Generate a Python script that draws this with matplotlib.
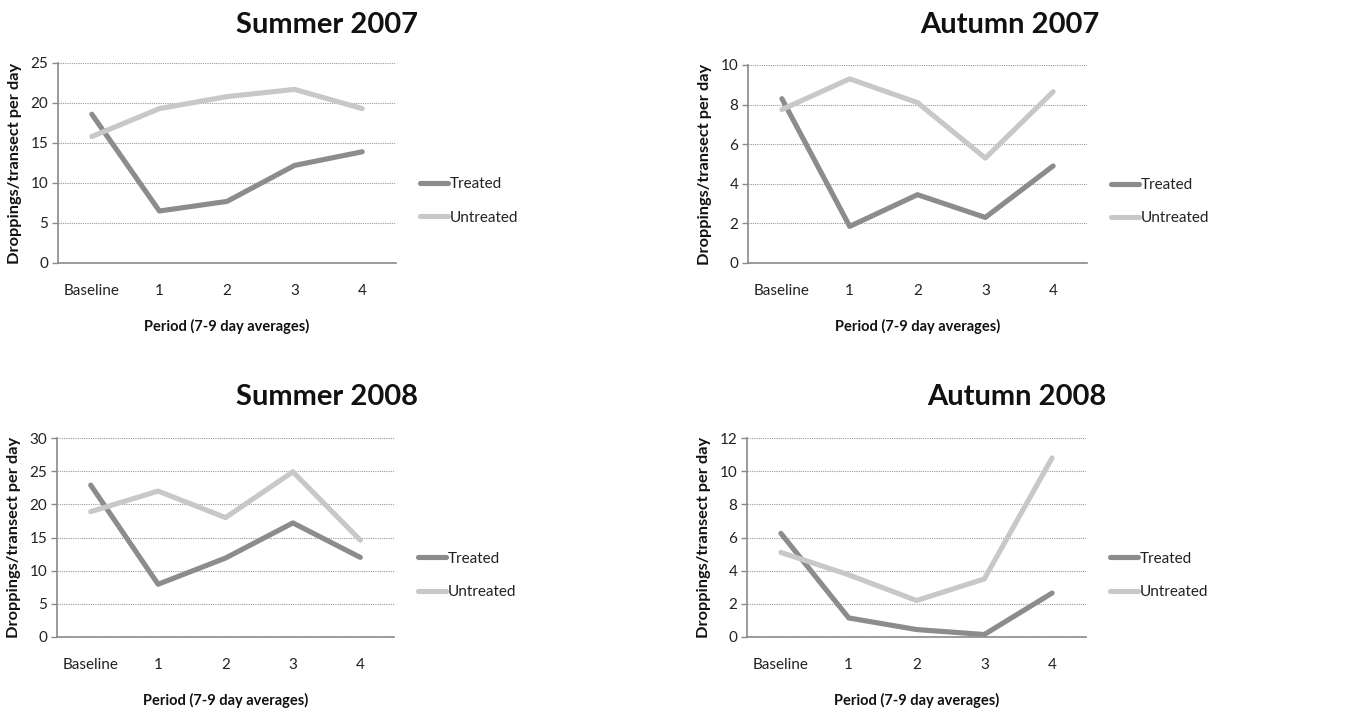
import matplotlib
matplotlib.use("Agg")
import matplotlib.pyplot as plt

plt.rcParams['font.family'] = ['Lato', 'DejaVu Sans']

categories = ["Baseline", "1", "2", "3", "4"]

titles = ["Summer 2007", "Autumn 2007", "Summer 2008", "Autumn 2008"]

treated_summer2007 = [18.6, 6.5, 7.7, 12.2, 13.9]
untreated_summer2007 = [15.8, 19.3, 20.8, 21.7, 19.3]

treated_autumn2007 = [8.3, 1.85, 3.45, 2.3, 4.9]
untreated_autumn2007 = [7.75, 9.3, 8.1, 5.3, 8.65]

treated_summer2008 = [22.9, 7.95, 11.9, 17.2, 12.0]
untreated_summer2008 = [18.9, 22.0, 18.0, 24.9, 14.6]

treated_autumn2008 = [6.25, 1.15, 0.45, 0.15, 2.65]
untreated_autumn2008 = [5.1, 3.75, 2.2, 3.5, 10.8]

ymax = [25, 10, 30, 12]
ystep = [5, 2, 5, 2]

series = [
    (treated_summer2007, untreated_summer2007),
    (treated_autumn2007, untreated_autumn2007),
    (treated_summer2008, untreated_summer2008),
    (treated_autumn2008, untreated_autumn2008),
]

W, H = 1357, 710
fig = plt.figure(figsize=(W / 100, H / 100), dpi=100)

# axes boxes in pixels: left, top, right, bottom
boxes = [
    (58, 63, 396, 263),
    (748, 65, 1087, 263),
    (57, 438, 394, 637),
    (747, 438, 1086, 637),
]
title_pos = [(327, 25), (1010, 25), (327, 397), (1017, 397)]

TREATED = "#8c8c8c"
UNTREATED = "#c8c8c8"
AXCOL = "#8a8a8a"

for i, (box, (tr, un)) in enumerate(zip(boxes, series)):
    l, t, r, b = box
    ax = fig.add_axes([l / W, 1 - b / H, (r - l) / W, (b - t) / H])
    x = list(range(len(categories)))
    ax.plot(x, tr, color=TREATED, lw=3.7, solid_capstyle='round', solid_joinstyle='round', label="Treated", zorder=3)
    ax.plot(x, un, color=UNTREATED, lw=3.7, solid_capstyle='round', solid_joinstyle='round', label="Untreated", zorder=3)
    ax.set_xlim(-0.5, 4.5)
    ax.set_ylim(0, ymax[i])
    ax.set_yticks(range(0, ymax[i] + 1, ystep[i]))
    ax.set_xticks(x)
    ax.set_xticklabels(categories)
    ax.grid(axis='y', color='#9a9a9a', linestyle=(0, (1, 1)), linewidth=0.8)
    ax.set_axisbelow(True)
    for s in ['top', 'right']:
        ax.spines[s].set_visible(False)
    for s in ['left', 'bottom']:
        ax.spines[s].set_color(AXCOL)
        ax.spines[s].set_linewidth(1.2)
    ax.tick_params(axis='x', length=0, pad=15, labelsize=11, colors='#222222')
    ax.tick_params(axis='y', length=4, width=1.0, color=AXCOL, pad=3, labelsize=11, labelcolor='#222222')
    hpx = b - t
    wpx = r - l
    ax.set_xlabel("Period (7-9 day averages)", fontsize=10.5, fontweight='bold', color='#111111')
    ax.xaxis.set_label_coords(0.5, -56 / hpx)
    ax.set_ylabel("Droppings/transect per day", fontsize=11.8, fontweight='bold', color='#111111')
    ax.yaxis.set_label_coords(-36 / wpx, 0.5)
    leg = ax.legend(loc='center left', bbox_to_anchor=(1.0 + 18 / wpx, 0.31), frameon=False,
                    fontsize=11, handlelength=1.85, handletextpad=0.1, labelspacing=1.25,
                    borderaxespad=0)
    for txt in leg.get_texts():
        txt.set_color('#222222')
    tx, ty = title_pos[i]
    fig.text(tx / W, 1 - ty / H, titles[i], ha='center', va='center', fontsize=21, fontweight='bold', color='#111111')

fig.savefig("out.png", dpi=100, facecolor='white')
